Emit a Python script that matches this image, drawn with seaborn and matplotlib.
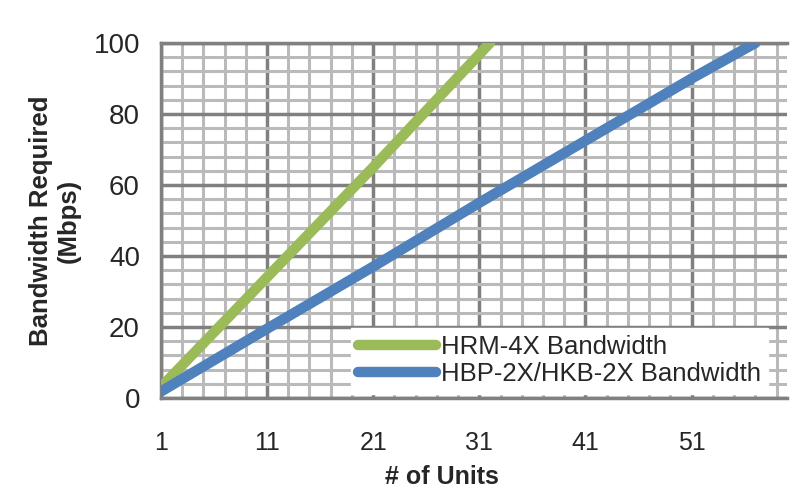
import numpy as np
import pandas as pd
import seaborn as sns
import matplotlib.pyplot as plt
from matplotlib.ticker import FixedLocator

# Values
hrm_units = [1, 11, 21, 32]
hrm_bw = [3, 34, 65, 100]
hbp_units = [1, 11, 21, 31, 41, 51, 57]
hbp_bw = [1.8, 19.5, 37, 55, 72.5, 90, 100]
series_names = ["HRM-4X Bandwidth", "HBP-2X/HKB-2X Bandwidth"]
x_ticks = [1, 11, 21, 31, 41, 51]
y_ticks = [0, 20, 40, 60, 80, 100]

df = pd.concat([
    pd.DataFrame({"units": hrm_units, "bw": hrm_bw, "series": series_names[0]}),
    pd.DataFrame({"units": hbp_units, "bw": hbp_bw, "series": series_names[1]}),
])

sns.set_style("white")
plt.rcParams["font.family"] = ["Liberation Sans", "DejaVu Sans"]

fig = plt.figure(figsize=(8, 5), dpi=100)
ax = fig.add_axes([0.201, 0.204, 0.783, 0.71])

major_c = "#808080"
minor_c = "#bababa"

sns.lineplot(data=df, x="units", y="bw", hue="series", ax=ax,
             palette=["#9bbb59", "#4f81bd"], linewidth=7.5,
             solid_capstyle="round", zorder=5, sort=False)

ax.set_xlim(1, 60)
ax.set_ylim(0, 100)
ax.xaxis.set_major_locator(FixedLocator(x_ticks))
ax.xaxis.set_minor_locator(FixedLocator(np.arange(3, 60, 2)))
ax.yaxis.set_major_locator(FixedLocator(y_ticks))
ax.yaxis.set_minor_locator(FixedLocator(np.arange(4, 100, 4)))

ax.grid(which="major", color=major_c, linewidth=2.5, zorder=1)
ax.grid(which="minor", color=minor_c, linewidth=2.2, zorder=0)
ax.set_axisbelow(True)

ax.spines["right"].set_visible(False)
for side in ["left", "bottom", "top"]:
    ax.spines[side].set_color(major_c)
    ax.spines[side].set_linewidth(2.5)

ax.tick_params(axis="both", which="major", direction="out", color=major_c,
               width=2.5, length=8)
ax.tick_params(axis="both", which="minor", direction="out", color=minor_c,
               width=2.2, length=4)
ax.tick_params(axis="x", which="major", labelsize=18, pad=16)
ax.tick_params(axis="y", which="major", labelsize=20, pad=7)

ax.set_ylabel("Bandwidth Required\n(Mbps)", fontsize=18.5, fontweight="bold",
              linespacing=1.2)
ax.yaxis.set_label_coords(-0.128, 0.5)
ax.set_xlabel("# of Units", fontsize=18, fontweight="bold")
ax.xaxis.set_label_coords(0.449, -0.19)

leg = ax.legend(loc="lower right", bbox_to_anchor=(0.97, 0.012),
                fontsize=18.5, frameon=True, fancybox=False,
                handlelength=3.0, handletextpad=0.2, borderpad=0.3,
                labelspacing=0.1, borderaxespad=0)
leg.get_frame().set_facecolor("white")
leg.get_frame().set_edgecolor("white")
leg.get_frame().set_alpha(1)
leg.set_zorder(10)
for line in leg.get_lines():
    line.set_linewidth(7.5)
    line.set_solid_capstyle("round")

fig.savefig("out.png", dpi=100)
